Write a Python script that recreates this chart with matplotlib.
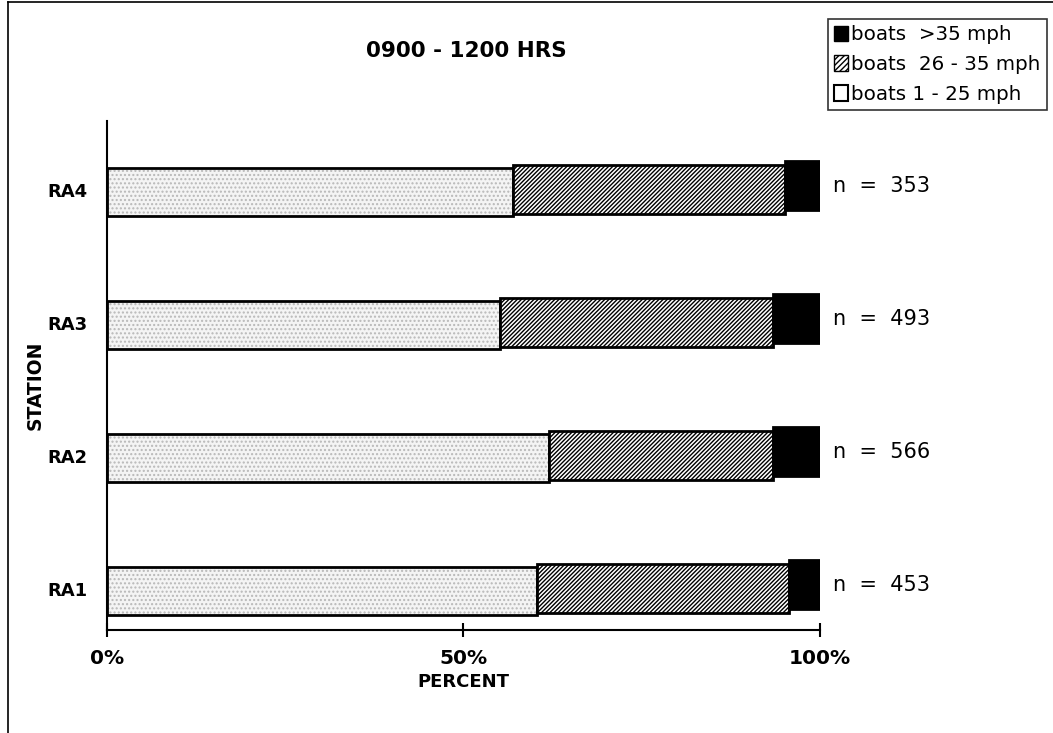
import numpy as np
import matplotlib.pyplot as plt
from matplotlib.patches import Patch
from matplotlib.lines import Line2D

stations = ['RA1', 'RA2', 'RA3', 'RA4']
slow = [60.3, 62.0, 55.1, 56.9]     # boats 1 - 25 mph
mid = [35.4, 31.4, 38.3, 38.2]      # boats 26 - 35 mph
fast = [4.3, 6.6, 6.6, 4.9]         # boats > 35 mph
counts = [453, 566, 493, 353]

plt.rcParams['font.family'] = ['DejaVu Sans']
plt.rcParams['hatch.linewidth'] = 1.0

fig = plt.figure(figsize=(10.53, 7.33), dpi=100)
ax = fig.add_axes([0.1016, 0.1405, 0.677, 0.695])

y = np.arange(len(stations))
h = 0.36
slow = np.array(slow)
mid = np.array(mid)
fast = np.array(fast)
dense = '/' * 8

# light stippled part: dots first, then the black outline on top
ax.barh(y - 0.02, slow, height=h, color='#f4f4f4', edgecolor='#b8b8b8',
        linewidth=0, hatch='....', zorder=2)
ax.barh(y - 0.02, slow, height=h, color='none', edgecolor='black',
        linewidth=2, zorder=2.5)
# hatched and black parts, stepped up a little like the original
ax.barh(y + 0.0, mid, left=slow, height=h + 0.01, color='white', edgecolor='black',
        linewidth=2, hatch=dense, zorder=3)
ax.barh(y + 0.03, fast, left=slow + mid, height=h + 0.01, color='black',
        edgecolor='black', linewidth=2, zorder=4)

for yi, n in zip(y, counts):
    ax.text(101.8, yi + 0.03, f'n  =  {n}', va='center', ha='left',
            fontsize=15, clip_on=False)

ax.set_xlim(0, 100)
ax.set_ylim(-0.31, 3.52)
ax.set_xticks([0, 50, 100])
ax.set_xticklabels(['0%', '50%', '100%'], fontsize=14.5, fontweight='bold')
ax.set_yticks(y)
ax.set_yticklabels(stations, fontsize=13, fontweight='bold')
ax.tick_params(axis='x', direction='inout', length=10, width=1.5, pad=9)
ax.tick_params(axis='y', length=0, pad=14)
for s in ['top', 'right']:
    ax.spines[s].set_visible(False)
ax.spines['left'].set_linewidth(1.5)
ax.spines['bottom'].set_linewidth(1.5)

ax.set_xlabel('PERCENT', fontsize=13, fontweight='bold', labelpad=3)
fig.text(0.033, 0.475, 'STATION', rotation=90, ha='center', va='center',
         fontsize=13.5, fontweight='bold')

fig.text(0.443, 0.931, '0900 - 1200 HRS', ha='center', va='center',
         fontsize=15.5, fontweight='bold')

handles = [Patch(facecolor='black', edgecolor='black'),
           Patch(facecolor='white', edgecolor='black', hatch='//////'),
           Patch(facecolor='white', edgecolor='black', linewidth=1.5)]
labels = ['boats  >35 mph', 'boats  26 - 35 mph', 'boats 1 - 25 mph']
leg = fig.legend(handles, labels, loc='upper left', bbox_to_anchor=(0.786, 0.974),
                 fontsize=14.3, frameon=True, fancybox=False, edgecolor='black',
                 handlelength=0.7, handleheight=0.8, handletextpad=0.2,
                 borderpad=0.3, labelspacing=0.55, borderaxespad=0)
leg.get_frame().set_linewidth(1.2)

# outer frame: only the left and top edges show in the scan
fig.add_artist(Line2D([0.0075, 0.0075], [0.0, 0.997], transform=fig.transFigure,
                      color='black', linewidth=1.2))
fig.add_artist(Line2D([0.0075, 1.0], [0.997, 0.997], transform=fig.transFigure,
                      color='black', linewidth=1.2))

fig.savefig('out.png', dpi=100)
